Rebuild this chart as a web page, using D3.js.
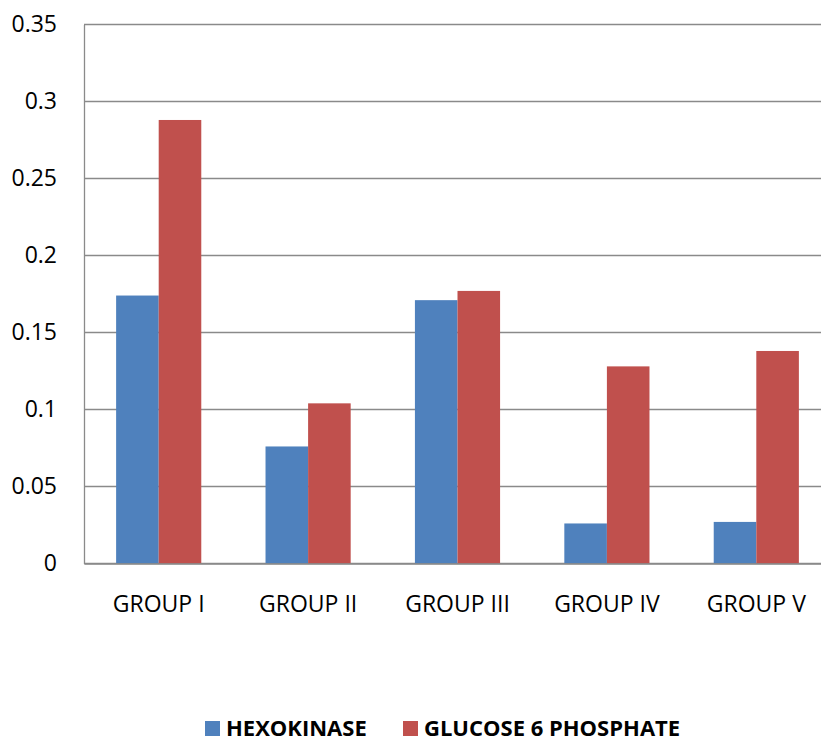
<!DOCTYPE html>
<html>
<head>
<meta charset="utf-8">
<script src="https://cdn.jsdelivr.net/npm/d3@7"></script>
<style>
  body { margin: 0; background: #fff; }
  svg { display: block; font-family: "Open Sans", sans-serif; }
</style>
</head>
<body>
<div id="chart-container"></div>
<script>
const groups = ["GROUP I", "GROUP II", "GROUP III", "GROUP IV", "GROUP V"];
const seriesNames = ["HEXOKINASE", "GLUCOSE 6 PHOSPHATE"];
const hexokinase = [0.174, 0.076, 0.171, 0.026, 0.027];
const glucose6p = [0.288, 0.104, 0.177, 0.128, 0.138];
const yTicks = [0, 0.05, 0.1, 0.15, 0.2, 0.25, 0.3, 0.35];
const colors = ["#4F81BD", "#C0504D"];

const svgWidth = 821;
const svgHeight = 743;
const margin = { top: 24.5, left: 84 };
const width = 747;
const height = 539;

const svg = d3.select("#chart-container")
    .append("svg")
    .attr("width", svgWidth)
    .attr("height", svgHeight);

const chart = svg.append("g")
    .attr("transform", `translate(${margin.left},${margin.top})`);

const scaleX = d3.scaleBand()
    .domain(groups)
    .range([0, width])
    .paddingInner(0.43)
    .paddingOuter(0.215);

const scaleSeries = d3.scaleBand()
    .domain(seriesNames)
    .range([0, scaleX.bandwidth()]);

const scaleY = d3.scaleLinear()
    .domain([0, 0.35])
    .range([height, 0]);

// gridlines
chart.selectAll(".grid")
    .data(yTicks)
    .enter()
    .append("line")
    .attr("x1", 0)
    .attr("x2", width)
    .attr("y1", d => scaleY(d))
    .attr("y2", d => scaleY(d))
    .attr("stroke", "#8a8a8a")
    .attr("stroke-width", 1.3);

// y axis
const yAxis = chart.append("g")
    .call(d3.axisLeft(scaleY).tickValues(yTicks).tickSize(0).tickPadding(27)
        .tickFormat(d => d === 0 ? "0" : String(+d.toFixed(2))));
yAxis.select(".domain").attr("stroke", "#8a8a8a").attr("stroke-width", 1.3);
yAxis.selectAll("text")
    .attr("font-size", "23px")
    .attr("fill", "#000")
    .attr("font-family", "Open Sans, sans-serif");

const data = groups.map((g, i) => ({ group: g, values: [hexokinase[i], glucose6p[i]] }));

const groupSel = chart.selectAll(".group")
    .data(data)
    .enter()
    .append("g")
    .attr("transform", d => `translate(${scaleX(d.group)},0)`);

groupSel.selectAll("rect")
    .data(d => d.values.map((v, j) => ({ series: seriesNames[j], value: v, idx: j })))
    .enter()
    .append("rect")
    .attr("x", d => scaleSeries(d.series))
    .attr("y", d => scaleY(d.value))
    .attr("width", scaleSeries.bandwidth())
    .attr("height", d => scaleY(0) - scaleY(d.value))
    .attr("fill", d => colors[d.idx]);

// x axis line and labels
const xAxis = chart.append("g")
    .attr("transform", `translate(0,${height})`)
    .call(d3.axisBottom(scaleX).tickSize(0).tickPadding(32));
xAxis.select(".domain").attr("stroke", "#8a8a8a").attr("stroke-width", 1.3);
xAxis.selectAll("text")
    .attr("font-size", "23px")
    .attr("fill", "#000")
    .attr("font-family", "Open Sans, sans-serif");

// legend
const legendX = [205, 403];
const legend = svg.selectAll(".legend")
    .data(seriesNames)
    .enter()
    .append("g")
    .attr("transform", (d, i) => `translate(${legendX[i]},721)`);

legend.append("rect")
    .attr("width", 15)
    .attr("height", 15)
    .attr("fill", (d, i) => colors[i]);

legend.append("text")
    .attr("x", 21)
    .attr("y", 15)
    .attr("font-size", "22px")
    .attr("font-weight", "bold")
    .attr("fill", "#000")
    .text(d => d);
</script>
</body>
</html>
